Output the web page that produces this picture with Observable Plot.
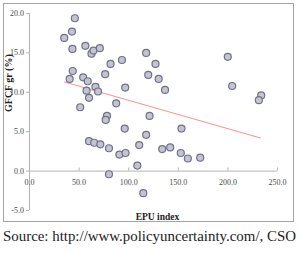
<!DOCTYPE html>
<html>
<head>
<meta charset="utf-8">
<script src="https://cdn.jsdelivr.net/npm/d3@7"></script>
<script src="https://cdn.jsdelivr.net/npm/@observablehq/plot@0.6"></script>
<style>
  html, body { margin: 0; padding: 0; background: #fff; }
  body { width: 300px; height: 253px; position: relative; overflow: hidden; font-family: "Liberation Serif", serif; }
  #chart { position: absolute; left: 0; top: 0; }
  #box { position: absolute; left: 3px; top: 3px; width: 291px; height: 219px; box-sizing: border-box; border: 1.5px solid #a4a4a4; pointer-events: none; }
  #source { position: absolute; left: 3px; top: 228px; font-size: 14.9px; color: #222; white-space: nowrap; }
</style>
</head>
<body>
<div id="chart"></div>
<div id="box"></div>
<div id="source">Source: http://www.policyuncertainty.com/, CSO</div>
<script>
// EPU index (x) and GFCF growth % (y)
const epu = [45.7, 42.8, 35.0, 43.3, 56.3, 62.5, 64.5, 70.9, 81.7, 93.2, 117.6, 119.7,
  43.6, 40.5, 54.1, 58.7, 76.3, 66.5, 69.1, 57.5, 60.0, 96.5, 87.4, 51.1, 78.1, 76.8,
  121.0, 127.0, 130.2, 136.6, 199.9, 204.3, 233.6, 231.2, 96.0, 60.0, 65.2, 71.4, 80.1,
  90.6, 96.8, 117.6, 110.6, 108.7, 80.1, 114.7, 153.2, 133.8, 141.8, 152.5, 159.6, 172.1];
const gfcf = [19.4, 17.7, 16.9, 15.5, 15.9, 14.9, 15.3, 15.6, 13.6, 14.1, 15.0, 12.2,
  12.7, 11.7, 11.9, 11.4, 12.3, 10.7, 10.1, 10.2, 9.3, 10.6, 8.6, 8.1, 7.0, 6.5,
  7.0, 13.6, 11.7, 10.3, 14.5, 10.8, 9.6, 9.0, 5.4, 3.8, 3.6, 3.4, 2.9,
  2.1, 2.3, 4.6, 3.3, 0.7, -0.4, -2.8, 5.4, 2.8, 3.0, 2.3, 1.6, 1.7];
// Linear trend line end points
const trendEpu = [35.3, 232.9];
const trendGfcf = [11.3, 4.2];
// Tick labels
const xTicks = [0, 50, 100, 150, 200, 250];
const yTicks = [-5, 0, 5, 10, 15, 20];
const xLabel = "EPU index";
const yLabel = "GFCF gr (%)";

const points = epu.map((x, i) => ({x, y: gfcf[i]}));
const trend = trendEpu.map((x, i) => ({x, y: trendGfcf[i]}));

const axisColor = "#b4b4b4";
const labelColor = "#4a4a4a";

const chart = Plot.plot({
  width: 300,
  height: 225,
  marginLeft: 29,
  marginRight: 23,
  marginTop: 13,
  marginBottom: 15,
  x: {domain: [0, 250], axis: null},
  y: {domain: [-5, 20], axis: null},
  style: {fontFamily: "Liberation Serif", background: "transparent", overflow: "visible"},
  marks: [
    // y axis line and ticks
    Plot.ruleX([0], {y1: -5, y2: 20, stroke: axisColor}),
    Plot.ruleY(yTicks, {x1: -3, x2: 0, y: d => d, stroke: axisColor}),
    Plot.text(yTicks, {x: 0, y: d => d, dx: -5.5, textAnchor: "end", text: d => d.toFixed(1), fontSize: 8, fill: labelColor}),
    // x axis line at y = 0 and ticks
    Plot.ruleY([0], {x1: 0, x2: 250, stroke: axisColor}),
    Plot.ruleX(xTicks, {x: d => d, y1: 0, y2: 0.4, stroke: axisColor}),
    Plot.text(xTicks, {x: d => d, y: 0, dy: 11, text: d => d.toFixed(1), fontSize: 8, fill: labelColor}),
    // trend line
    Plot.line(trend, {x: "x", y: "y", stroke: "#f49a9a", strokeWidth: 1.1}),
    // points
    Plot.dot(points, {x: "x", y: "y", r: 3.5, fill: "#c4c4ce", stroke: "#70708e", strokeWidth: 1.2}),
    // axis titles
    Plot.text([xLabel], {frameAnchor: "bottom", dx: 4, dy: 9, fontWeight: "bold", fontSize: 9.5, fill: "#222"}),
    Plot.text([yLabel], {frameAnchor: "left", rotate: -90, dx: -21, fontWeight: "bold", fontSize: 10, fill: "#222"})
  ]
});
document.getElementById("chart").appendChild(chart);
</script>
</body>
</html>
